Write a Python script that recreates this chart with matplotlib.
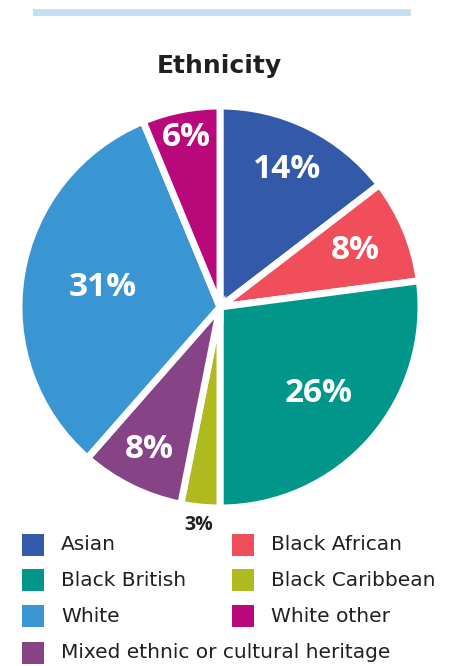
import matplotlib.pyplot as plt
from matplotlib.patches import Rectangle
import numpy as np

# Dati
gruppi = ["Asian", "Black African", "Black British", "Black Caribbean",
          "Mixed ethnic or cultural heritage", "White", "White other"]
percentuali = [14, 8, 26, 3, 8, 31, 6]
colori = ["#335aa8", "#f04e5a", "#00968a", "#afba1f", "#864385", "#3a96d2", "#b8087a"]

# ordine della legenda (righe da sinistra a destra)
ordine_legenda = ["Asian", "Black African", "Black British", "Black Caribbean",
                  "White", "White other", "Mixed ethnic or cultural heritage"]

W, H = 462, 666
fig = plt.figure(figsize=(W / 100, H / 100), dpi=100)

# barra azzurra in alto
fig.add_artist(Rectangle((33 / W, 1 - 16 / H), 378 / W, 7 / H,
                         transform=fig.transFigure, color="#c5e0f3", lw=0))

fig.text(219 / W, 1 - 66 / H, "Ethnicity", ha="center", va="center",
         fontsize=18, fontweight="bold", family="DejaVu Sans", color="#231f20")

# torta
cx, cy, r = 220, 307, 201
ax = fig.add_axes([(cx - r) / W, (H - cy - r) / H, 2 * r / W, 2 * r / H])
wedges, _ = ax.pie(percentuali, colors=colori, startangle=90, counterclock=False,
                   wedgeprops=dict(edgecolor="white", linewidth=5))
ax.set_xlim(-1, 1)
ax.set_ylim(-1, 1)
ax.axis("off")

# etichette percentuali
distanze = [0.76, 0.73, 0.65, 1.09, 0.79, 0.59, 0.86]
for w, p, d in zip(wedges, percentuali, distanze):
    ang = np.deg2rad((w.theta1 + w.theta2) / 2)
    fuori = d > 1
    ax.text(d * np.cos(ang), d * np.sin(ang), f"{p}%", ha="center", va="center",
            fontsize=14 if fuori else 24, fontweight="bold", family="Open Sans",
            color="#231f20" if fuori else "white")

# legenda
righe_y = [545, 580, 616, 653]
col_x = [22, 232]
lato = 22
for i, nome in enumerate(ordine_legenda):
    x = col_x[i % 2]
    y = righe_y[i // 2]
    c = colori[gruppi.index(nome)]
    fig.add_artist(Rectangle((x / W, 1 - (y + lato / 2) / H), lato / W, lato / H,
                             transform=fig.transFigure, color=c, lw=0))
    fig.text((x + 39) / W, 1 - y / H, nome, ha="left", va="center",
             fontsize=14.5, family="DejaVu Sans", color="#231f20")

fig.savefig("out.png", dpi=100)
